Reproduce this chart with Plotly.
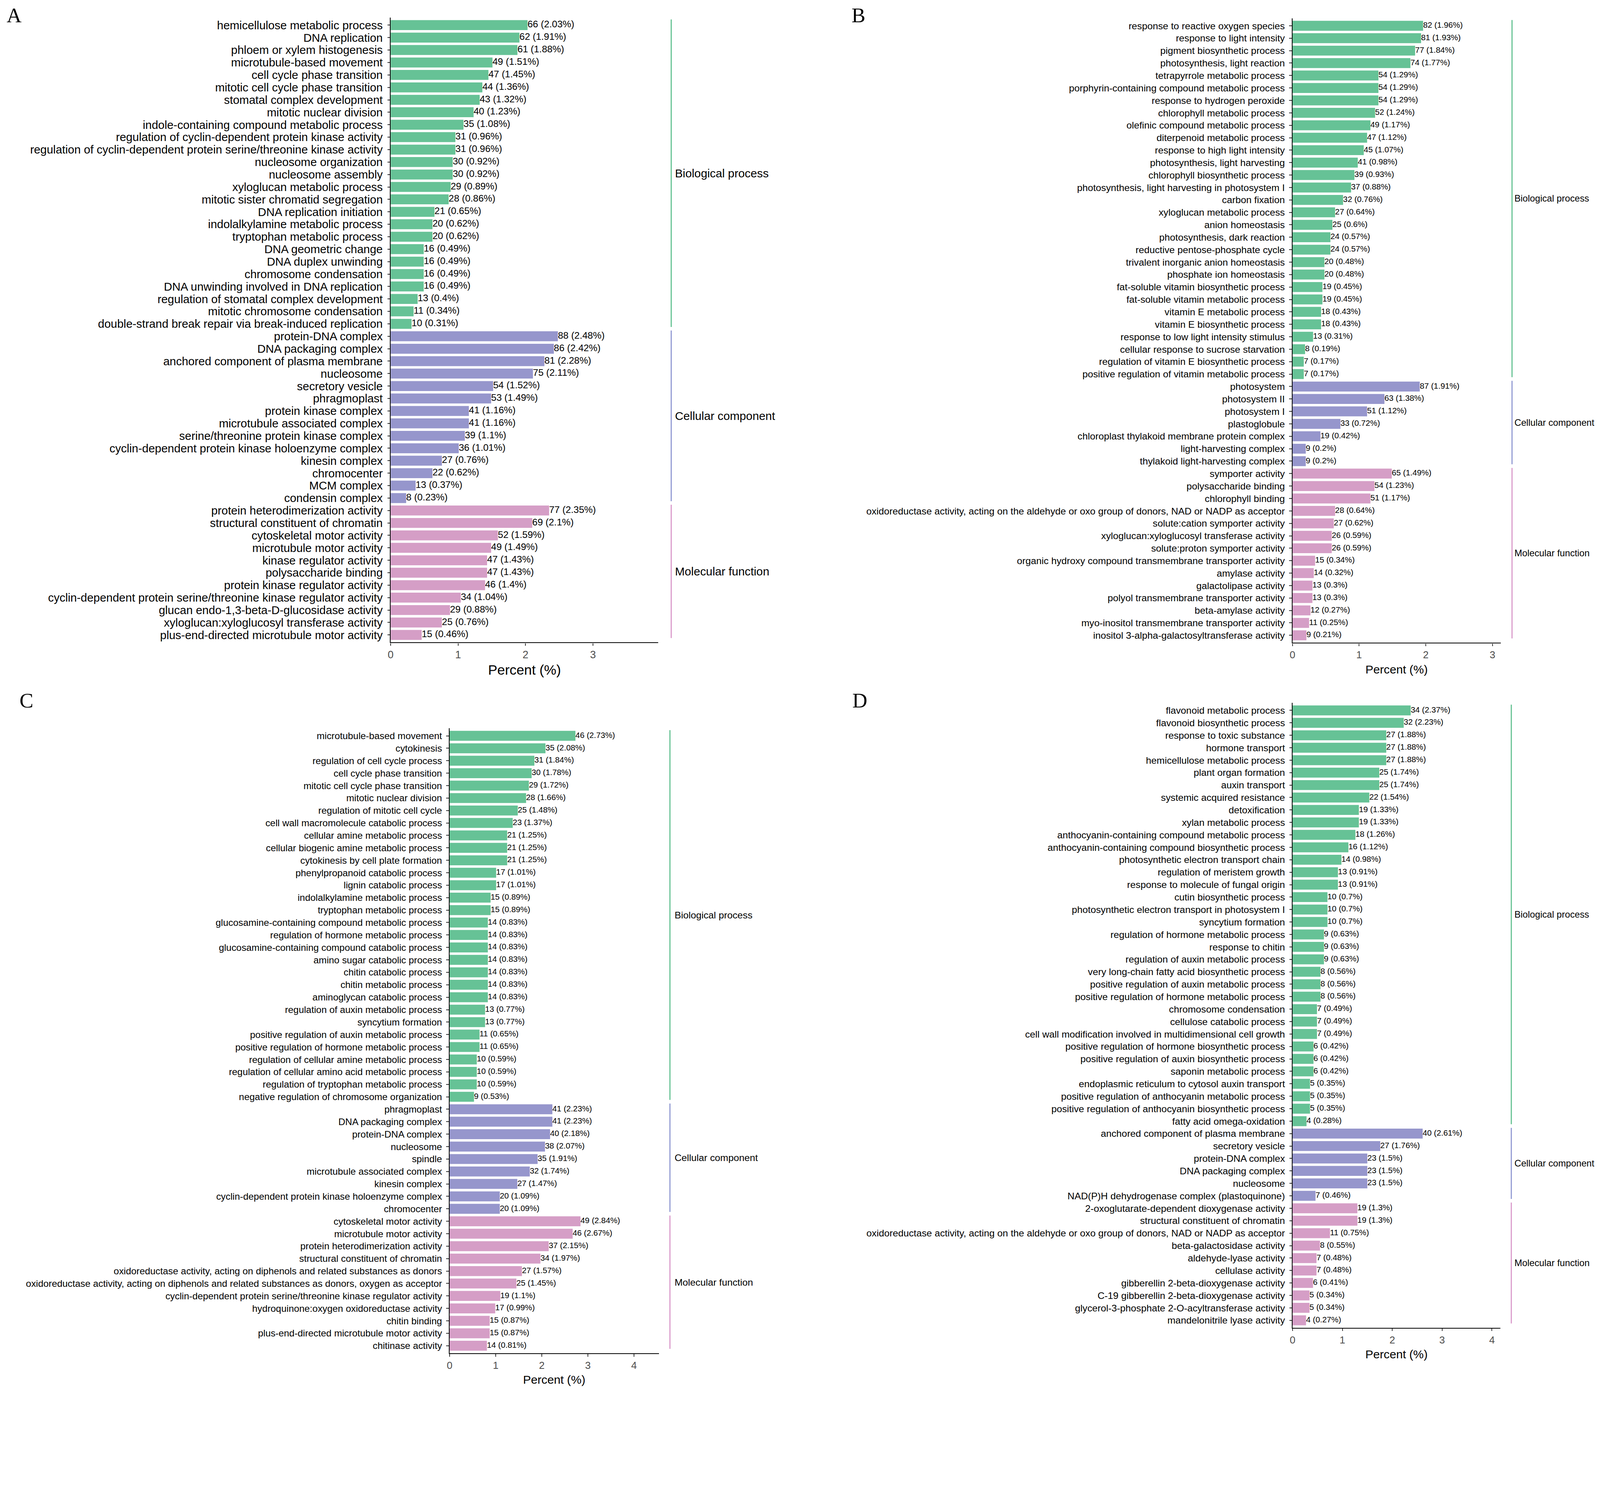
import plotly.graph_objects as go

# Reference geometry is given in reference pixels (4409 x 3832 picture).
# The viewer shows the page with a small zoom and an 8px body margin, so reference
# pixels are mapped to CSS pixels with css = S * ref - O.
REF_W, REF_H = 4409, 3832
S = 0.9302
O = 10.0
FIG_W, FIG_H = 4085, 3560

group_names = ["Biological process", "Cellular component", "Molecular function"]

# ---------------- Panel A ----------------
a_terms = [
    "hemicellulose metabolic process", "DNA replication", "phloem or xylem histogenesis",
    "microtubule-based movement", "cell cycle phase transition", "mitotic cell cycle phase transition",
    "stomatal complex development", "mitotic nuclear division", "indole-containing compound metabolic process",
    "regulation of cyclin-dependent protein kinase activity",
    "regulation of cyclin-dependent protein serine/threonine kinase activity",
    "nucleosome organization", "nucleosome assembly", "xyloglucan metabolic process",
    "mitotic sister chromatid segregation", "DNA replication initiation", "indolalkylamine metabolic process",
    "tryptophan metabolic process", "DNA geometric change", "DNA duplex unwinding", "chromosome condensation",
    "DNA unwinding involved in DNA replication", "regulation of stomatal complex development",
    "mitotic chromosome condensation", "double-strand break repair via break-induced replication",
    "protein-DNA complex", "DNA packaging complex", "anchored component of plasma membrane", "nucleosome",
    "secretory vesicle", "phragmoplast", "protein kinase complex", "microtubule associated complex",
    "serine/threonine protein kinase complex", "cyclin-dependent protein kinase holoenzyme complex",
    "kinesin complex", "chromocenter", "MCM complex", "condensin complex",
    "protein heterodimerization activity", "structural constituent of chromatin", "cytoskeletal motor activity",
    "microtubule motor activity", "kinase regulator activity", "polysaccharide binding",
    "protein kinase regulator activity", "cyclin-dependent protein serine/threonine kinase regulator activity",
    "glucan endo-1,3-beta-D-glucosidase activity", "xyloglucan:xyloglucosyl transferase activity",
    "plus-end-directed microtubule motor activity",
]
a_counts = [66, 62, 61, 49, 47, 44, 43, 40, 35, 31, 31, 30, 30, 29, 28, 21, 20, 20, 16, 16, 16, 16, 13, 11, 10,
            88, 86, 81, 75, 54, 53, 41, 41, 39, 36, 27, 22, 13, 8,
            77, 69, 52, 49, 47, 47, 46, 34, 29, 25, 15]
a_pcts = [2.03, 1.91, 1.88, 1.51, 1.45, 1.36, 1.32, 1.23, 1.08, 0.96, 0.96, 0.92, 0.92, 0.89, 0.86, 0.65, 0.62,
          0.62, 0.49, 0.49, 0.49, 0.49, 0.4, 0.34, 0.31,
          2.48, 2.42, 2.28, 2.11, 1.52, 1.49, 1.16, 1.16, 1.1, 1.01, 0.76, 0.62, 0.37, 0.23,
          2.35, 2.1, 1.59, 1.49, 1.43, 1.43, 1.4, 1.04, 0.88, 0.76, 0.46]
a_sizes = [25, 14, 11]

# ---------------- Panel B ----------------
b_terms = [
    "response to reactive oxygen species", "response to light intensity", "pigment biosynthetic process",
    "photosynthesis, light reaction", "tetrapyrrole metabolic process",
    "porphyrin-containing compound metabolic process", "response to hydrogen peroxide",
    "chlorophyll metabolic process", "olefinic compound metabolic process", "diterpenoid metabolic process",
    "response to high light intensity", "photosynthesis, light harvesting", "chlorophyll biosynthetic process",
    "photosynthesis, light harvesting in photosystem I", "carbon fixation", "xyloglucan metabolic process",
    "anion homeostasis", "photosynthesis, dark reaction", "reductive pentose-phosphate cycle",
    "trivalent inorganic anion homeostasis", "phosphate ion homeostasis",
    "fat-soluble vitamin biosynthetic process", "fat-soluble vitamin metabolic process",
    "vitamin E metabolic process", "vitamin E biosynthetic process",
    "response to low light intensity stimulus", "cellular response to sucrose starvation",
    "regulation of vitamin E biosynthetic process", "positive regulation of vitamin metabolic process",
    "photosystem", "photosystem II", "photosystem I", "plastoglobule",
    "chloroplast thylakoid membrane protein complex", "light-harvesting complex",
    "thylakoid light-harvesting complex",
    "symporter activity", "polysaccharide binding", "chlorophyll binding",
    "oxidoreductase activity, acting on the aldehyde or oxo group of donors, NAD or NADP as acceptor",
    "solute:cation symporter activity", "xyloglucan:xyloglucosyl transferase activity",
    "solute:proton symporter activity", "organic hydroxy compound transmembrane transporter activity",
    "amylase activity", "galactolipase activity", "polyol transmembrane transporter activity",
    "beta-amylase activity", "myo-inositol transmembrane transporter activity",
    "inositol 3-alpha-galactosyltransferase activity",
]
b_counts = [82, 81, 77, 74, 54, 54, 54, 52, 49, 47, 45, 41, 39, 37, 32, 27, 25, 24, 24, 20, 20, 19, 19, 18, 18,
            13, 8, 7, 7,
            87, 63, 51, 33, 19, 9, 9,
            65, 54, 51, 28, 27, 26, 26, 15, 14, 13, 13, 12, 11, 9]
b_pcts = [1.96, 1.93, 1.84, 1.77, 1.29, 1.29, 1.29, 1.24, 1.17, 1.12, 1.07, 0.98, 0.93, 0.88, 0.76, 0.64, 0.6,
          0.57, 0.57, 0.48, 0.48, 0.45, 0.45, 0.43, 0.43, 0.31, 0.19, 0.17, 0.17,
          1.91, 1.38, 1.12, 0.72, 0.42, 0.2, 0.2,
          1.49, 1.23, 1.17, 0.64, 0.62, 0.59, 0.59, 0.34, 0.32, 0.3, 0.3, 0.27, 0.25, 0.21]
b_sizes = [29, 7, 14]

# ---------------- Panel C ----------------
c_terms = [
    "microtubule-based movement", "cytokinesis", "regulation of cell cycle process",
    "cell cycle phase transition", "mitotic cell cycle phase transition", "mitotic nuclear division",
    "regulation of mitotic cell cycle", "cell wall macromolecule catabolic process",
    "cellular amine metabolic process", "cellular biogenic amine metabolic process",
    "cytokinesis by cell plate formation", "phenylpropanoid catabolic process", "lignin catabolic process",
    "indolalkylamine metabolic process", "tryptophan metabolic process",
    "glucosamine-containing compound metabolic process", "regulation of hormone metabolic process",
    "glucosamine-containing compound catabolic process", "amino sugar catabolic process",
    "chitin catabolic process", "chitin metabolic process", "aminoglycan catabolic process",
    "regulation of auxin metabolic process", "syncytium formation",
    "positive regulation of auxin metabolic process", "positive regulation of hormone metabolic process",
    "regulation of cellular amine metabolic process", "regulation of cellular amino acid metabolic process",
    "regulation of tryptophan metabolic process", "negative regulation of chromosome organization",
    "phragmoplast", "DNA packaging complex", "protein-DNA complex", "nucleosome", "spindle",
    "microtubule associated complex", "kinesin complex",
    "cyclin-dependent protein kinase holoenzyme complex", "chromocenter",
    "cytoskeletal motor activity", "microtubule motor activity", "protein heterodimerization activity",
    "structural constituent of chromatin",
    "oxidoreductase activity, acting on diphenols and related substances as donors",
    "oxidoreductase activity, acting on diphenols and related substances as donors, oxygen as acceptor",
    "cyclin-dependent protein serine/threonine kinase regulator activity",
    "hydroquinone:oxygen oxidoreductase activity", "chitin binding",
    "plus-end-directed microtubule motor activity", "chitinase activity",
]
c_counts = [46, 35, 31, 30, 29, 28, 25, 23, 21, 21, 21, 17, 17, 15, 15, 14, 14, 14, 14, 14, 14, 14, 13, 13,
            11, 11, 10, 10, 10, 9,
            41, 41, 40, 38, 35, 32, 27, 20, 20,
            49, 46, 37, 34, 27, 25, 19, 17, 15, 15, 14]
c_pcts = [2.73, 2.08, 1.84, 1.78, 1.72, 1.66, 1.48, 1.37, 1.25, 1.25, 1.25, 1.01, 1.01, 0.89, 0.89, 0.83, 0.83,
          0.83, 0.83, 0.83, 0.83, 0.83, 0.77, 0.77, 0.65, 0.65, 0.59, 0.59, 0.59, 0.53,
          2.23, 2.23, 2.18, 2.07, 1.91, 1.74, 1.47, 1.09, 1.09,
          2.84, 2.67, 2.15, 1.97, 1.57, 1.45, 1.1, 0.99, 0.87, 0.87, 0.81]
c_sizes = [30, 9, 11]

# ---------------- Panel D ----------------
d_terms = [
    "flavonoid metabolic process", "flavonoid biosynthetic process", "response to toxic substance",
    "hormone transport", "hemicellulose metabolic process", "plant organ formation", "auxin transport",
    "systemic acquired resistance", "detoxification", "xylan metabolic process",
    "anthocyanin-containing compound metabolic process", "anthocyanin-containing compound biosynthetic process",
    "photosynthetic electron transport chain", "regulation of meristem growth",
    "response to molecule of fungal origin", "cutin biosynthetic process",
    "photosynthetic electron transport in photosystem I", "syncytium formation",
    "regulation of hormone metabolic process", "response to chitin", "regulation of auxin metabolic process",
    "very long-chain fatty acid biosynthetic process", "positive regulation of auxin metabolic process",
    "positive regulation of hormone metabolic process", "chromosome condensation",
    "cellulose catabolic process", "cell wall modification involved in multidimensional cell growth",
    "positive regulation of hormone biosynthetic process", "positive regulation of auxin biosynthetic process",
    "saponin metabolic process", "endoplasmic reticulum to cytosol auxin transport",
    "positive regulation of anthocyanin metabolic process",
    "positive regulation of anthocyanin biosynthetic process", "fatty acid omega-oxidation",
    "anchored component of plasma membrane", "secretory vesicle", "protein-DNA complex",
    "DNA packaging complex", "nucleosome", "NAD(P)H dehydrogenase complex (plastoquinone)",
    "2-oxoglutarate-dependent dioxygenase activity", "structural constituent of chromatin",
    "oxidoreductase activity, acting on the aldehyde or oxo group of donors, NAD or NADP as acceptor",
    "beta-galactosidase activity", "aldehyde-lyase activity", "cellulase activity",
    "gibberellin 2-beta-dioxygenase activity", "C-19 gibberellin 2-beta-dioxygenase activity",
    "glycerol-3-phosphate 2-O-acyltransferase activity", "mandelonitrile lyase activity",
]
d_counts = [34, 32, 27, 27, 27, 25, 25, 22, 19, 19, 18, 16, 14, 13, 13, 10, 10, 10, 9, 9, 9, 8, 8, 8, 7, 7, 7,
            6, 6, 6, 5, 5, 5, 4,
            40, 27, 23, 23, 23, 7,
            19, 19, 11, 8, 7, 7, 6, 5, 5, 4]
d_pcts = [2.37, 2.23, 1.88, 1.88, 1.88, 1.74, 1.74, 1.54, 1.33, 1.33, 1.26, 1.12, 0.98, 0.91, 0.91, 0.7, 0.7,
          0.7, 0.63, 0.63, 0.63, 0.56, 0.56, 0.56, 0.49, 0.49, 0.49, 0.42, 0.42, 0.42, 0.35, 0.35, 0.35, 0.28,
          2.61, 1.76, 1.5, 1.5, 1.5, 0.46,
          1.3, 1.3, 0.75, 0.55, 0.48, 0.48, 0.41, 0.34, 0.34, 0.27]
d_sizes = [34, 6, 10]

x_ticks_a = [0, 1, 2, 3]
x_ticks_b = [0, 1, 2, 3]
x_ticks_c = [0, 1, 2, 3, 4]
x_ticks_d = [0, 1, 2, 3, 4]

# ---------------- styles / layout geometry (reference pixels) ----------------
bar_colors = ["#66C296", "#9696CC", "#D59EC6"]
line_colors = ["#5EBF8E", "#8C95D0", "#D896C8"]
FONT = "Liberation Sans, Arial, Helvetica, sans-serif"

panels = [
    dict(letter="A", terms=a_terms, counts=a_counts, pcts=a_pcts, sizes=a_sizes, ticks=x_ticks_a,
         x0=1071.6, x1=1809.6, y0=50.8, y1=1770, xmax=3.97, brx=1845, lbx=1853,
         f_lab=31.7, f_val=26.3, f_grp=32, f_tit=38, f_tick=29, lx=8, ly=34),
    dict(letter="B", terms=b_terms, counts=b_counts, pcts=b_pcts, sizes=b_sizes, ticks=x_ticks_b,
         x0=3557.6, x1=4132, y0=52.5, y1=1771, xmax=3.125, brx=4163, lbx=4168,
         f_lab=26.6, f_val=22.3, f_grp=25.5, f_tit=32.5, f_tick=28, lx=2340, ly=34),
    dict(letter="C", terms=c_terms, counts=c_counts, pcts=c_pcts, sizes=c_sizes, ticks=x_ticks_c,
         x0=1234, x1=1811, y0=2006.5, y1=3726, xmax=4.54, brx=1841.5, lbx=1852,
         f_lab=26.2, f_val=22.3, f_grp=26.6, f_tit=32.5, f_tick=28, lx=46, ly=1932),
    dict(letter="D", terms=d_terms, counts=d_counts, pcts=d_pcts, sizes=d_sizes, ticks=x_ticks_d,
         x0=3558, x1=4131, y0=1936.5, y1=3656, xmax=4.17, brx=4161, lbx=4168,
         f_lab=26.6, f_val=22.3, f_grp=25.5, f_tit=32.5, f_tick=28, lx=2342, ly=1932),
]

LETTER_SIZE = 57


def fx(v):
    return max(0.0, (S * v - O) / FIG_W)


def fy(v):
    return 1 - (S * v - O) / FIG_H


def sz(v):
    return v * S


fig = go.Figure()
shapes = []
annotations = []
layout_axes = {}

for i, p in enumerate(panels):
    n = i + 1
    xa = "x" if n == 1 else f"x{n}"
    ya = "y" if n == 1 else f"y{n}"
    xkey = "xaxis" if n == 1 else f"xaxis{n}"
    ykey = "yaxis" if n == 1 else f"yaxis{n}"

    colors = []
    for g, s in enumerate(p["sizes"]):
        colors += [bar_colors[g]] * s

    fig.add_trace(go.Bar(
        x=p["pcts"], y=p["terms"], orientation="h", width=0.8,
        marker=dict(color=colors, line=dict(width=0)),
        xaxis=xa, yaxis=ya, showlegend=False, hoverinfo="x+y",
    ))
    labels = [f"{c} ({v:g}%)" for c, v in zip(p["counts"], p["pcts"])]
    fig.add_trace(go.Scatter(
        x=p["pcts"], y=p["terms"], mode="text", text=labels,
        textposition="middle right", cliponaxis=False,
        textfont=dict(family=FONT, size=sz(p["f_val"]), color="black"),
        xaxis=xa, yaxis=ya, showlegend=False, hoverinfo="skip",
    ))

    nterm = len(p["terms"])
    layout_axes[xkey] = dict(
        domain=[fx(p["x0"]), fx(p["x1"])], anchor=ya, range=[0, p["xmax"]],
        tickmode="array", tickvals=p["ticks"], ticktext=[str(t) for t in p["ticks"]],
        showline=True, linecolor="black", linewidth=sz(2.5), ticks="outside", ticklen=sz(7),
        tickwidth=sz(2), tickcolor="#333333", showgrid=False, zeroline=False,
        tickfont=dict(family=FONT, size=sz(p["f_tick"]), color="#4D4D4D"),
        title=dict(text="Percent (%)", font=dict(family=FONT, size=sz(p["f_tit"]), color="black"),
                   standoff=sz(13)),
    )
    layout_axes[ykey] = dict(
        domain=[fy(p["y1"]), fy(p["y0"])], anchor=xa, type="category",
        categoryorder="array", categoryarray=p["terms"], range=[nterm - 0.4, -0.6],
        tickmode="array", tickvals=p["terms"],
        showline=True, linecolor="black", linewidth=sz(2), ticks="outside", ticklen=sz(7),
        tickwidth=sz(2), tickcolor="#333333", showgrid=False, zeroline=False,
        ticklabelstandoff=int(round(sz(6))),
        tickfont=dict(family=FONT, size=sz(p["f_lab"]), color="black"),
    )

    start = 0
    for g, s in enumerate(p["sizes"]):
        y_start = start - 0.46
        y_end = start + s - 1 + 0.25
        shapes.append(dict(type="line", xref="paper", yref=ya,
                           x0=fx(p["brx"]), x1=fx(p["brx"]), y0=y_start, y1=y_end,
                           line=dict(color=line_colors[g], width=sz(3))))
        annotations.append(dict(x=fx(p["lbx"]), y=(y_start + y_end) / 2, xref="paper", yref=ya,
                                text=group_names[g], showarrow=False, xanchor="left", yanchor="middle",
                                font=dict(family=FONT, size=sz(p["f_grp"]), color="black")))
        start += s

    # panel letter: keep its text box inside the page
    half_box = 0.62 * sz(LETTER_SIZE)
    top_css = max(0.0, S * p["ly"] - O - half_box)
    annotations.append(dict(x=fx(p["lx"]), y=1 - top_css / FIG_H, xref="paper", yref="paper",
                            text=p["letter"], showarrow=False, xanchor="left", yanchor="top",
                            font=dict(family="Liberation Serif, Times New Roman, serif",
                                      size=sz(LETTER_SIZE), color="black")))

fig.update_layout(
    width=FIG_W, height=FIG_H, margin=dict(l=0, r=0, t=0, b=0),
    paper_bgcolor="white", plot_bgcolor="white",
    barmode="overlay", bargap=0.2,
    shapes=shapes, annotations=annotations,
    font=dict(family=FONT, color="black"),
    **layout_axes,
)

fig.write_html("out.html")
